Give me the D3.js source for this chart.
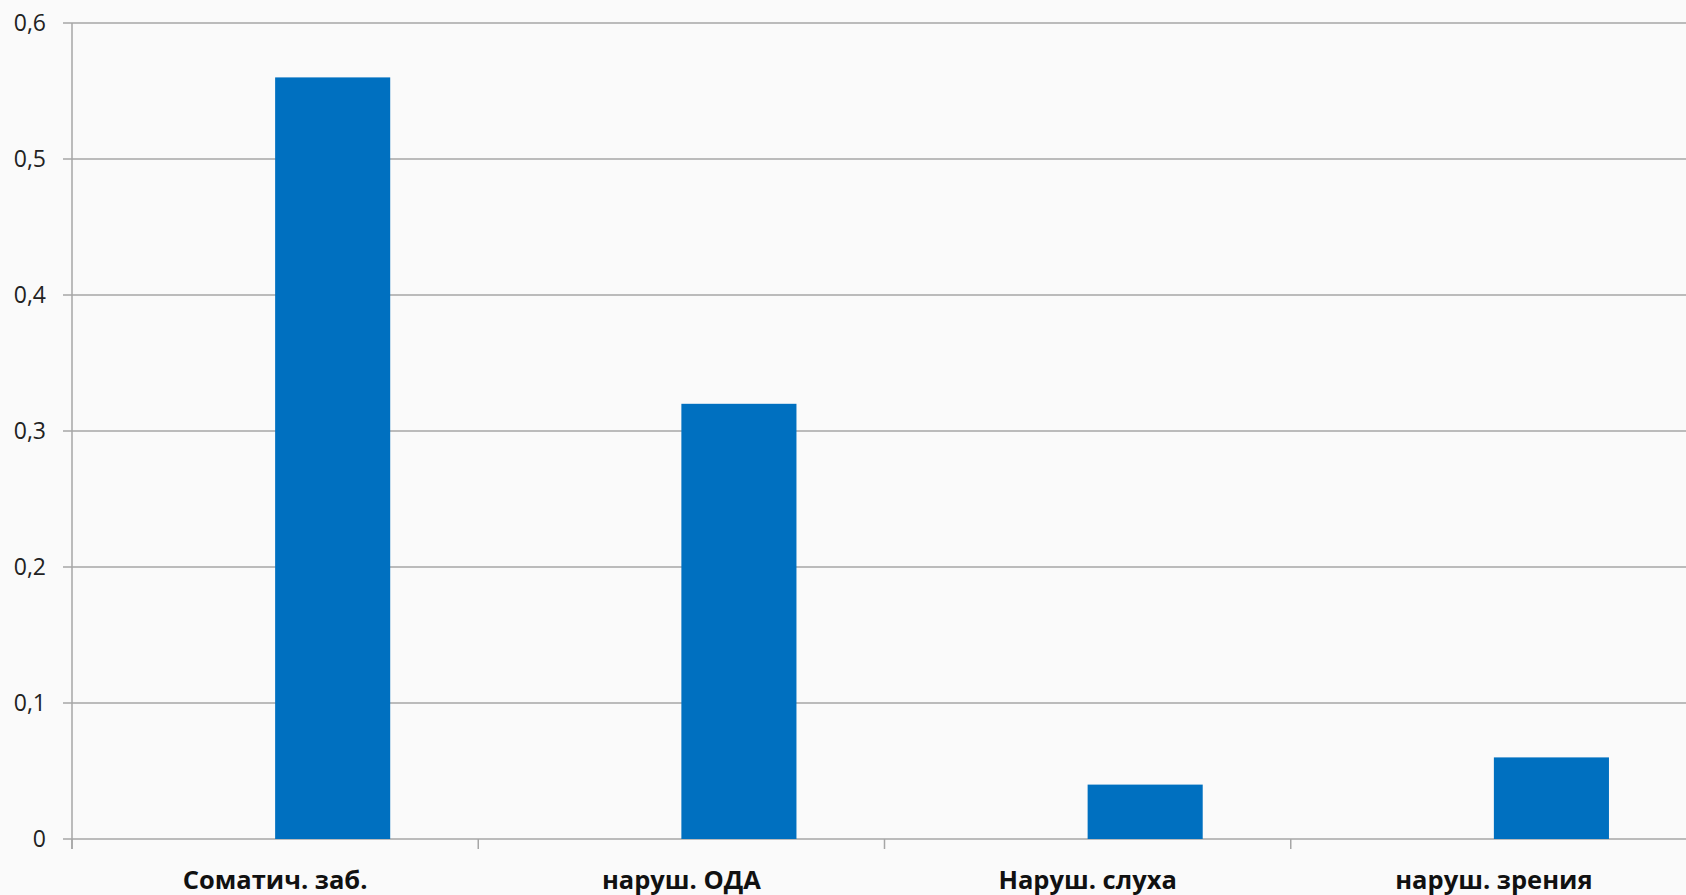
<!DOCTYPE html>
<html><head><meta charset="utf-8">
<script src="https://cdn.jsdelivr.net/npm/d3@7"></script>
<style>
html,body{margin:0;padding:0;background:#fafafa;overflow:hidden;}
svg{display:block;}
</style></head>
<body>
<svg id="chart" width="1686" height="895"></svg>
<script>
const categories = ["Соматич. заб.", "наруш. ОДА", "Наруш. слуха", "наруш. зрения"];
const seriesNames = ["", "Ряд 1"];
const values = [0.56, 0.32, 0.04, 0.06];
const yTicks = [0, 0.1, 0.2, 0.3, 0.4, 0.5, 0.6];
const yTickLabels = ["0", "0,1", "0,2", "0,3", "0,4", "0,5", "0,6"];

(function () {
const svg = d3.select("#chart");
const mLeft = 72, mRight = 1697, mTop = 23, mBottom = 839;
const grid = "#a6a6a6";

const x = d3.scaleBand().domain(categories).range([mLeft, mRight]).paddingInner(0).paddingOuter(0);
const gap = 1.53;
const inner = d3.scaleBand().domain(seriesNames).range([0, x.bandwidth()])
  .paddingInner(0).paddingOuter(gap / 2);
const y = d3.scaleLinear().domain([0, 0.6]).range([mBottom, mTop]);

// gridlines
svg.append("g").selectAll("line").data(yTicks).join("line")
  .attr("x1", mLeft - 9).attr("x2", mRight)
  .attr("y1", d => y(d)).attr("y2", d => y(d))
  .attr("stroke", grid).attr("stroke-width", 1.5);

// bars
svg.append("g").selectAll("rect").data(values).join("rect")
  .attr("x", (d, i) => x(categories[i]) + inner(seriesNames[1]))
  .attr("width", inner.bandwidth())
  .attr("y", d => y(d))
  .attr("height", d => y(0) - y(d))
  .attr("fill", "#0070c0");

// y axis line
svg.append("line").attr("x1", mLeft).attr("x2", mLeft).attr("y1", mTop).attr("y2", mBottom + 10)
  .attr("stroke", grid).attr("stroke-width", 1.5);
// x tick marks
svg.append("g").selectAll("line").data(categories).join("line")
  .attr("x1", d => x(d)).attr("x2", d => x(d))
  .attr("y1", mBottom).attr("y2", mBottom + 10)
  .attr("stroke", grid).attr("stroke-width", 1.5);

// y labels
svg.append("g").selectAll("text").data(yTicks).join("text")
  .attr("x", 46).attr("y", d => y(d)).attr("dy", "0.36em")
  .attr("text-anchor", "end")
  .attr("font-family", "Open Sans, sans-serif").attr("font-size", 23)
  .attr("fill", "#222")
  .text((d, i) => yTickLabels[i]);

// x labels
svg.append("g").selectAll("text").data(categories).join("text")
  .attr("x", d => x(d) + x.bandwidth() / 2).attr("y", 889)
  .attr("text-anchor", "middle")
  .attr("font-family", "Open Sans, sans-serif").attr("font-size", 25.5).attr("font-weight", "bold")
  .attr("fill", "#111")
  .text(d => d);
})();
</script>
</body></html>
